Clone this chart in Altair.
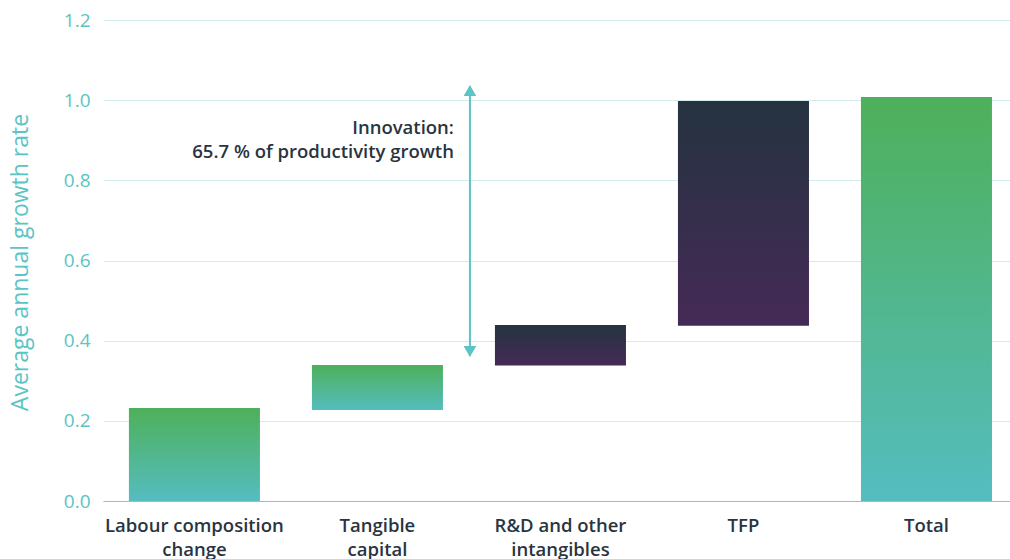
import altair as alt
import pandas as pd

categories = ["Labour composition change", "Tangible capital", "R&D and other intangibles", "TFP", "Total"]
label_lines = [["Labour composition", "change"], ["Tangible", "capital"], ["R&D and other", "intangibles"], ["TFP"], ["Total"]]
bar_start = [0.0, 0.227, 0.338, 0.437, 0.0]
bar_end = [0.232, 0.339, 0.439, 0.998, 1.008]
bar_kind = ["green", "green", "purple", "purple", "green"]

y_ticks = [0.0, 0.2, 0.4, 0.6, 0.8, 1.0, 1.2]
arrow_bottom = 0.362
arrow_top = 1.035
arrow_head_top = 1.024
arrow_head_bottom = 0.373
note_text = ["Innovation:", "65.7 % of productivity growth"]
note_y = 0.916
note_category = "R&D and other intangibles"

FONT = "Open Sans"
TEAL = "#5bc4c4"
DARK = "#2a3440"

df = pd.DataFrame({"cat": categories, "start": bar_start, "end": bar_end, "kind": bar_kind})

label_expr = " : ".join(
    [f"datum.label == '{c}' ? {l!r}" for c, l in zip(categories, label_lines)]
) + " : datum.label"

x_scale = alt.Scale(domain=categories, paddingInner=0.284, paddingOuter=0.12, align=0.59)
y_scale = alt.Scale(domain=[0, 1.2], nice=False)

x_enc = alt.X("cat:N", scale=x_scale, sort=categories, title=None,
              axis=alt.Axis(labelAngle=0, labelFont=FONT, labelFontSize=18.5, labelFontWeight=600,
                            labelColor=DARK, ticks=False, domainColor="#7fcccc", domainWidth=1,
                            labelPadding=15, labelBaseline="top", labelLineHeight=24,
                            labelExpr=label_expr, labelLimit=300))
y_enc = alt.Y("start:Q", scale=y_scale,
              title="Average annual growth rate",
              axis=alt.Axis(values=y_ticks, format=".1f", labelFont=FONT, labelFontSize=19,
                            labelColor=TEAL, ticks=False, domain=False, labelPadding=13,
                            gridColor="#d3ebed", gridWidth=1,
                            titleFont=FONT, titleFontSize=23, titleFontWeight="normal",
                            titleColor=TEAL, titleX=-83, titleY=242, titleAngle=-90,
                            titleAlign="center", titleBaseline="middle"))

def grad(top, bottom):
    return alt.Gradient(gradient="linear", x1=0, x2=0, y1=0, y2=1,
                        stops=[alt.GradientStop(offset=0, color=top),
                               alt.GradientStop(offset=1, color=bottom)])

base = alt.Chart(df)
green = base.transform_filter("datum.kind == 'green'").mark_bar(
    color=grad("#4eb05a", "#55bdc0")).encode(x=x_enc, y=y_enc, y2="end:Q")
purple = base.transform_filter("datum.kind == 'purple'").mark_bar(
    color=grad("#253340", "#452a57")).encode(x=x_enc, y=y_enc, y2="end:Q")

ann = pd.DataFrame({"cat": [note_category], "y0": [arrow_bottom], "y1": [arrow_top],
                    "ht": [arrow_head_top], "hb": [arrow_head_bottom], "ny": [note_y],
                    "txt": [note_text]})
abase = alt.Chart(ann)
ax = alt.X("cat:N", scale=x_scale, sort=categories, bandPosition=0)
rule = abase.mark_rule(color=TEAL, strokeWidth=2, xOffset=-25).encode(
    x=ax, y=alt.Y("y0:Q", scale=y_scale), y2="y1:Q")
head_top = abase.mark_point(shape="triangle-up", filled=True, color=TEAL, size=160, opacity=1,
                            xOffset=-25).encode(x=ax, y=alt.Y("ht:Q", scale=y_scale))
head_bot = abase.mark_point(shape="triangle-down", filled=True, color=TEAL, size=160, opacity=1,
                            xOffset=-25).encode(x=ax, y=alt.Y("hb:Q", scale=y_scale))
note = abase.mark_text(align="right", baseline="alphabetic", font=FONT, fontSize=18.5,
                       fontWeight=600, color=DARK, lineHeight=24.5, xOffset=-41).encode(
    x=ax, y=alt.Y("ny:Q", scale=y_scale), text="txt")

chart = alt.layer(green, purple, rule, head_top, head_bot, note).properties(
    width=907, height=481,
    autosize=alt.AutoSizeParams(type="none"),
    padding={"left": 103, "top": 20, "right": 0, "bottom": 58},
    background="white",
).configure_view(stroke=None)

chart.save("out.html", embed_options={"renderer": "svg", "actions": False})
